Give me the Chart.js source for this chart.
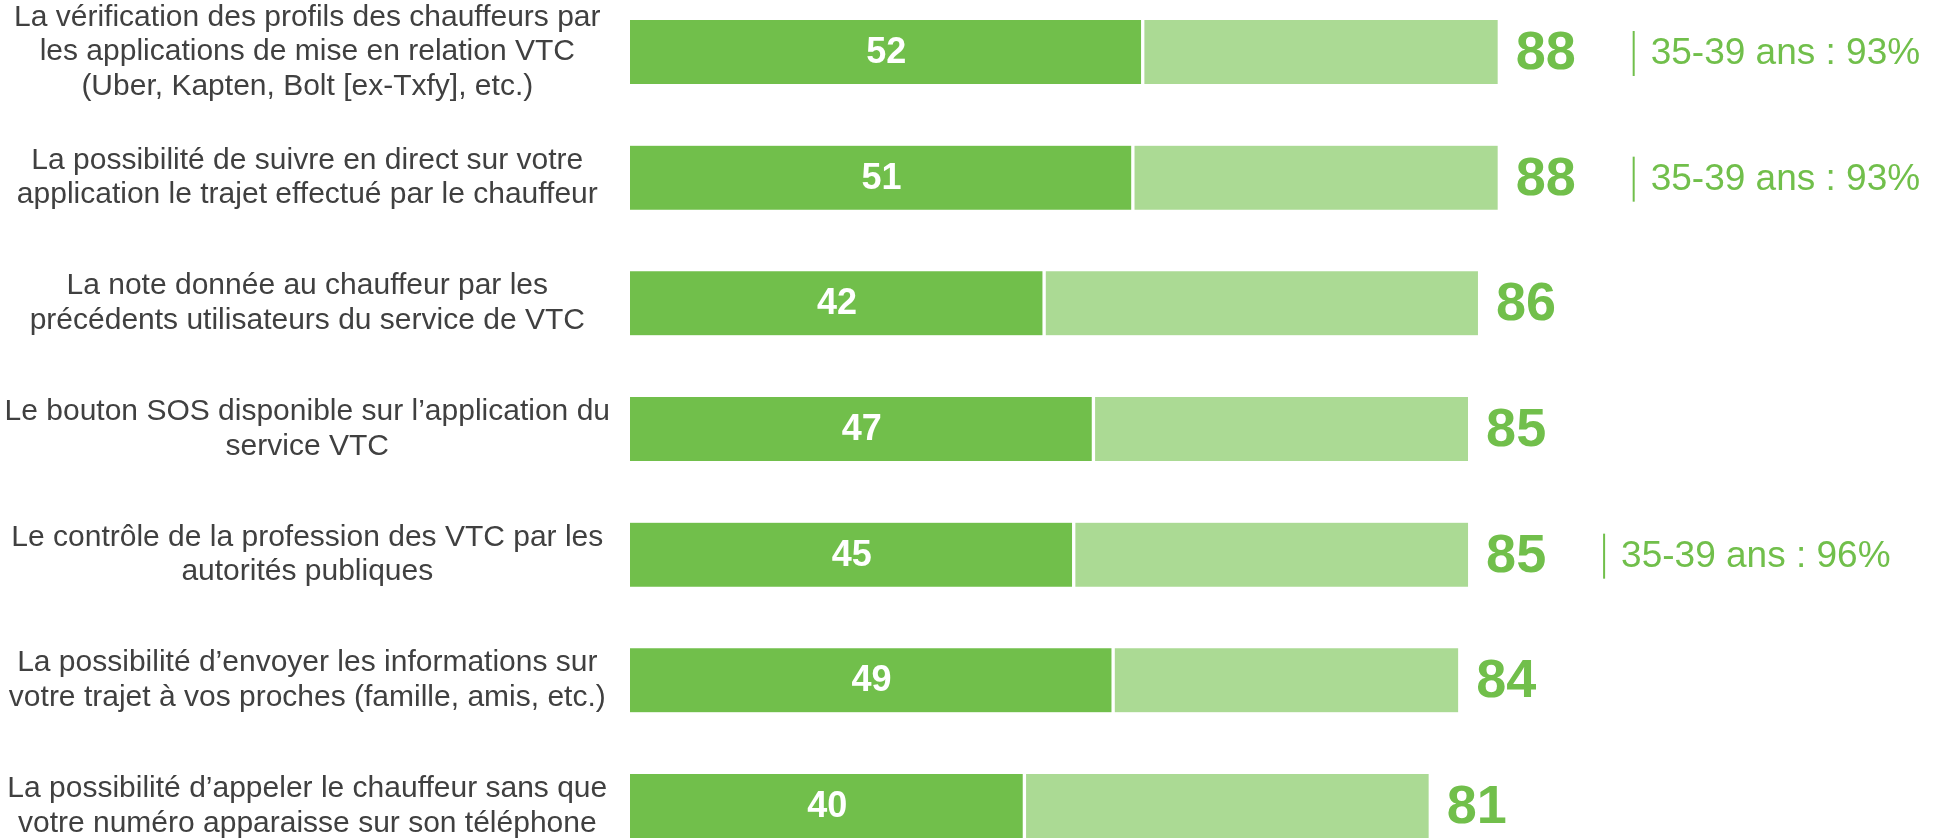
<!DOCTYPE html>
<html lang="fr">
<head>
<meta charset="utf-8">
<title>VTC - mesures de sécurité</title>
<script src="https://cdn.jsdelivr.net/npm/chart.js@4/dist/chart.umd.min.js"></script>
<style>
    html, body { margin: 0; padding: 0; background: #fff; }
    #wrap { position: relative; width: 1936px; height: 838px; }
</style>
</head>
<body>
<div id="wrap"><canvas id="vtcChart"></canvas></div>
<script>
// --- Data ---
const categories = [
    ["La vérification des profils des chauffeurs par", "les applications de mise en relation VTC", "(Uber, Kapten, Bolt [ex-Txfy], etc.)"],
    ["La possibilité de suivre en direct sur votre", "application le trajet effectué par le chauffeur"],
    ["La note donnée au chauffeur par les", "précédents utilisateurs du service de VTC"],
    ["Le bouton SOS disponible sur l’application du", "service VTC"],
    ["Le contrôle de la profession des VTC par les", "autorités publiques"],
    ["La possibilité d’envoyer les informations sur", "votre trajet à vos proches (famille, amis, etc.)"],
    ["La possibilité d’appeler le chauffeur sans que", "votre numéro apparaisse sur son téléphone"]
];
const scoreTop = [52, 51, 42, 47, 45, 49, 40];
const scoreTotal = [88, 88, 86, 85, 85, 84, 81];
const ageNotes = ["35-39 ans : 93%", "35-39 ans : 93%", "", "", "35-39 ans : 96%", "", ""];

const GREEN = '#71bf4b';
const LIGHT_GREEN = '#abda94';
const FONT = '"Liberation Sans", Arial, sans-serif';

// draws the numbers inside/after the bars and the age notes
const valueLabels = {
    id: 'valueLabels',
    afterDatasetsDraw(chart) {
        const ctx = chart.ctx;
        const dark = chart.getDatasetMeta(0).data;
        const light = chart.getDatasetMeta(1).data;
        ctx.save();
        ctx.textBaseline = 'middle';
        dark.forEach((bar, i) => {
            ctx.fillStyle = '#fff';
            ctx.font = `bold 36px ${FONT}`;
            ctx.textAlign = 'center';
            ctx.fillText(scoreTop[i], (bar.base + bar.x) / 2, bar.y + 1);

            const end = light[i].x;
            ctx.fillStyle = GREEN;
            ctx.font = `bold 54px ${FONT}`;
            ctx.textAlign = 'left';
            ctx.fillText(scoreTotal[i], end + 18, bar.y + 2);

            if (ageNotes[i]) {
                const lx = end + 136;
                ctx.fillRect(lx - 1, bar.y - 21, 2, 45);
                ctx.font = `37px ${FONT}`;
                ctx.fillText(ageNotes[i], lx + 17, bar.y + 2);
            }
        });
        ctx.restore();
    }
};

new Chart(document.getElementById('vtcChart'), {
    type: 'bar',
    data: {
        labels: categories,
        datasets: [{
            data: scoreTop,
            backgroundColor: GREEN,
            borderColor: '#fff',
            borderWidth: { top: 0, bottom: 0, left: 0, right: 2 },
            borderSkipped: false,
            barThickness: 64,
            grouped: false,
            clip: false
        }, {
            data: scoreTotal.map((t, i) => [scoreTop[i], t]),
            backgroundColor: LIGHT_GREEN,
            borderColor: '#fff',
            borderWidth: { top: 0, bottom: 0, left: 2, right: 0 },
            borderSkipped: false,
            barThickness: 64,
            grouped: false,
            clip: false
        }]
    },
    options: {
        indexAxis: 'y',
        responsive: true,
        maintainAspectRatio: false,
        animation: false,
        layout: { padding: { top: 52, bottom: 32, left: 0, right: 320 } },
        plugins: {
            legend: { display: false },
            tooltip: { enabled: false }
        },
        scales: {
            x: {
                display: false,
                min: 0,
                max: 100
            },
            y: {
                offset: false,
                grid: { display: false, drawTicks: false },
                border: { display: false },
                afterFit(scale) {
                    scale.width = 630;
                    scale.paddingTop = 0;
                    scale.paddingBottom = 0;
                },
                ticks: {
                    crossAlign: 'center',
                    padding: 20,
                    color: '#404040',
                    font: { family: FONT, size: 30, lineHeight: 1.15 }
                }
            }
        }
    },
    plugins: [valueLabels]
});
</script>
</body>
</html>
